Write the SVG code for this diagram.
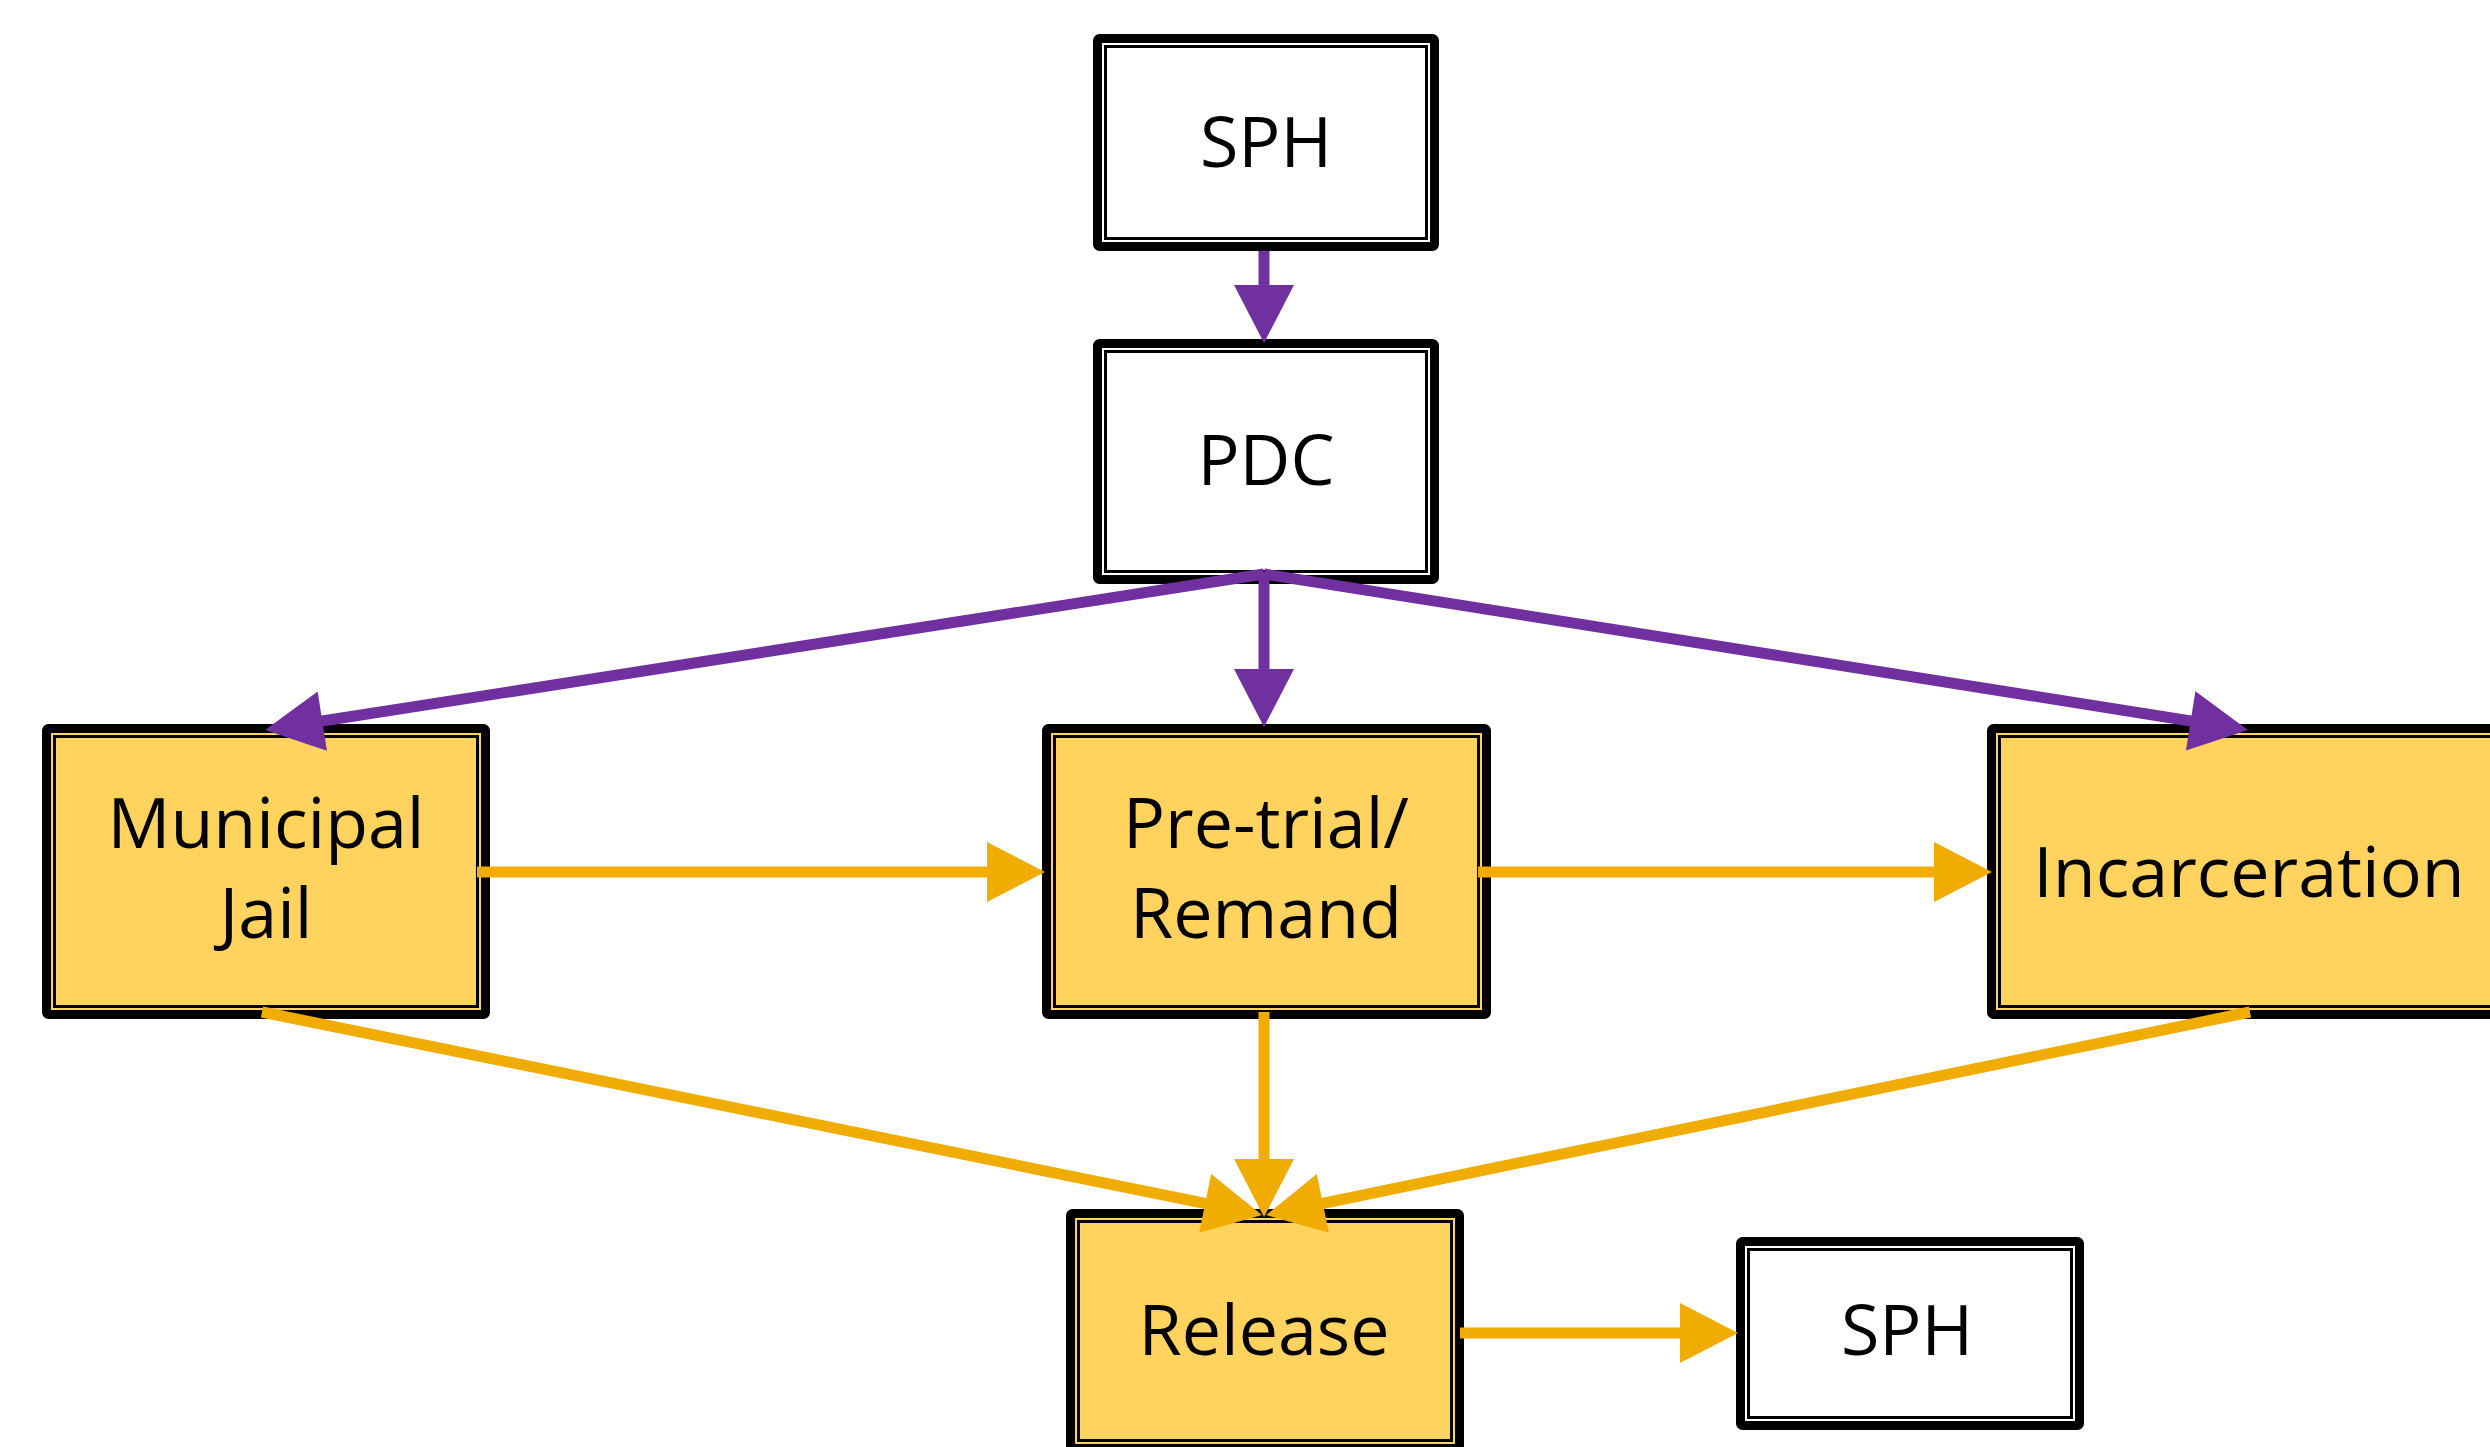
<svg xmlns="http://www.w3.org/2000/svg" width="2490" height="1447" viewBox="0 0 2490 1447">
<style>
.outer{stroke:#000;stroke-width:9;}
.inner{fill:none;stroke:#000;stroke-width:3;}
.w{fill:#fff;}
.y{fill:#FFD35E;}
.t{font-family:"Open Sans","Noto Sans","Liberation Sans",sans-serif;font-size:70px;fill:#000;text-anchor:middle;}
.p{stroke:#7030A0;stroke-width:11;fill:none;}
.o{stroke:#F0AC00;stroke-width:11;fill:none;}
</style>
<defs>
<marker id="ap" markerUnits="userSpaceOnUse" markerWidth="58" markerHeight="60" refX="8" refY="30" orient="auto" overflow="visible"><path d="M0,0 L58,30 L0,60 z" fill="#7030A0"/></marker>
<marker id="ao" markerUnits="userSpaceOnUse" markerWidth="58" markerHeight="60" refX="8" refY="30" orient="auto" overflow="visible"><path d="M0,0 L58,30 L0,60 z" fill="#F0AC00"/></marker>
</defs>
<rect width="2490" height="1447" fill="#fff"/>
<g id="sph-top">
<rect class="outer w" x="1097.5" y="38.5" width="337" height="208" rx="2"/>
<rect class="inner" x="1105.5" y="46.5" width="321" height="192"/>
<text class="t" x="1266" y="167">SPH</text>
</g>
<g id="pdc">
<rect class="outer w" x="1097.5" y="343.5" width="337" height="236" rx="2"/>
<rect class="inner" x="1105.5" y="351.5" width="321" height="220"/>
<text class="t" x="1266" y="485">PDC</text>
</g>
<g id="municipal-jail">
<rect class="outer y" x="46.5" y="728.5" width="439" height="286" rx="2"/>
<rect class="inner" x="54.5" y="736.5" width="423" height="270"/>
<text class="t" x="266" y="848">Municipal</text>
<text class="t" x="266" y="938">Jail</text>
</g>
<g id="pre-trial-remand">
<rect class="outer y" x="1046.5" y="728.5" width="440" height="286" rx="2"/>
<rect class="inner" x="1054.5" y="736.5" width="424" height="270"/>
<text class="t" x="1266" y="848">Pre-trial/</text>
<text class="t" x="1266" y="938">Remand</text>
</g>
<g id="incarceration">
<rect class="outer y" x="1991.5" y="728.5" width="515" height="286" rx="2"/>
<rect class="inner" x="1999.5" y="736.5" width="499" height="270"/>
<text class="t" x="2249" y="897">Incarceration</text>
</g>
<g id="release">
<rect class="outer y" x="1070.5" y="1213.5" width="389" height="235" rx="2"/>
<rect class="inner" x="1078.5" y="1221.5" width="373" height="219"/>
<text class="t" x="1264" y="1355">Release</text>
</g>
<g id="sph-bottom">
<rect class="outer w" x="1740.5" y="1241.5" width="339" height="184" rx="2"/>
<rect class="inner" x="1748.5" y="1249.5" width="323" height="168"/>
<text class="t" x="1907" y="1355">SPH</text>
</g>
<g id="connectors">
<line class="p" x1="1264" y1="251" x2="1264" y2="293" marker-end="url(#ap)"/>
<line class="p" x1="1264" y1="578" x2="1264" y2="677" marker-end="url(#ap)"/>
<line class="p" x1="1264" y1="574" x2="314.4" y2="722.3" marker-end="url(#ap)"/>
<line class="p" x1="1264" y1="574" x2="2198.6" y2="722.2" marker-end="url(#ap)"/>
<line class="o" x1="477" y1="872" x2="995" y2="872" marker-end="url(#ao)"/>
<line class="o" x1="1478" y1="872" x2="1942" y2="872" marker-end="url(#ao)"/>
<line class="o" x1="262" y1="1012" x2="1213" y2="1205" marker-end="url(#ao)"/>
<line class="o" x1="1264" y1="1012" x2="1264" y2="1167" marker-end="url(#ao)"/>
<line class="o" x1="2250" y1="1012" x2="1315" y2="1205" marker-end="url(#ao)"/>
<line class="o" x1="1460" y1="1333" x2="1688" y2="1333" marker-end="url(#ao)"/>
</g>
</svg>
